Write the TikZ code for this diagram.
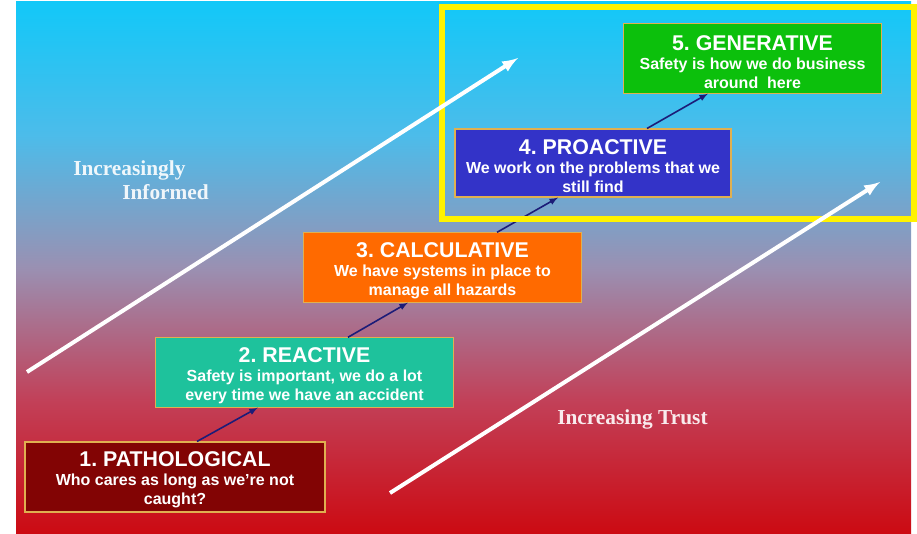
\documentclass[tikz,border=0pt]{standalone}
\usepackage{fontspec}
\setmainfont{Liberation Serif}
\setsansfont{Liberation Sans}
\usetikzlibrary{positioning}
\frenchspacing

\definecolor{bgtop}{HTML}{12C8F8}
\definecolor{bgupper}{HTML}{4CBCEA}
\definecolor{bgmid}{HTML}{9A90B2}
\definecolor{bglower}{HTML}{C24058}
\definecolor{bgbottom}{HTML}{CC0A12}
\definecolor{stageline}{HTML}{E0B050}
\definecolor{patho}{HTML}{820404}
\definecolor{react}{HTML}{1EC29C}
\definecolor{calcul}{HTML}{FF6A00}
\definecolor{proact}{HTML}{3333C8}
\definecolor{gener}{HTML}{0CC00C}
\definecolor{linkblue}{HTML}{1C1C78}

\pgfdeclareverticalshading{bgshade}{100bp}{color(0bp)=(bgbottom); color(25bp)=(bgbottom);
  color(37.5bp)=(bglower); color(50bp)=(bgmid); color(62.5bp)=(bgupper);
  color(75bp)=(bgtop); color(100bp)=(bgtop)}

\newcommand{\stagetitle}[1]{{\fontsize{16}{18}\selectfont\rule{0pt}{16pt}#1}}

\begin{document}
\begin{tikzpicture}[x=0.75pt,y=-0.75pt,
    stage/.style={draw=stageline, line width=0.8pt, align=center, text=white,
                  inner sep=0pt,
                  font=\sffamily\bfseries\fontsize{12}{14.25}\selectfont},
    stagelink/.style={draw=linkblue, line width=1.2pt, -latex},
    trend/.style={draw=white, line width=3pt, -latex},
    trendlabel/.style={text=white, text opacity=0.9, inner sep=0pt,
                       font=\rmfamily\bfseries\fontsize{16}{19}\selectfont}]

    \useasboundingbox (0,0) rectangle (917,534);
    \shade[shading=bgshade] (16,2) rectangle (911,534);

    % the five stages
    \node (s1) [stage, fill=patho, minimum width=225pt, minimum height=52.5pt] at (175,477)
      {\stagetitle{1. PATHOLOGICAL}\\ Who cares as long as we’re not\\ caught?};
    \node (s2) [stage, fill=react, minimum width=224pt, minimum height=52pt] at (304.5,372.5)
      {\stagetitle{2. REACTIVE}\\ Safety is important, we do a lot\\ every time we have an accident};
    \node (s3) [stage, fill=calcul, minimum width=208pt, minimum height=52pt] at (442.5,267.5)
      {\stagetitle{3. CALCULATIVE}\\ We have systems in place to\\ manage all hazards};
    \node (s4) [stage, fill=proact, minimum width=207pt, minimum height=51pt] at (593,163)
      {\stagetitle{4. PROACTIVE}\\ We work on the problems that we\\ still find};
    \node (s5) [stage, fill=gener, minimum width=193pt, minimum height=52pt] at (752.5,58.5)
      {\stagetitle{5. GENERATIVE}\\ Safety is how we do business\\ around~ here};

    \foreach \a/\b/\p/\q in {s1/s2/16.5pt/-35pt, s2/s3/32.6pt/-25.9pt,
                             s3/s4/40.9pt/-26.2pt, s4/s5/40.5pt/-33.4pt} {
      \draw[stagelink] ([xshift=\p]\a.north) -- ([xshift=\q]\b.south);
    }

    % highlight of the upper two stages
    \draw[yellow, line width=4.5pt] (441.5,7) rectangle (913.5,219.5);

    % the two trends
    \coordinate (inf start) at (27,372);
    \coordinate (inf end) at (518,58);
    \coordinate (trust start) at (390,493);
    \coordinate (trust end) at (880,182);
    \draw[trend] (inf start) -- (inf end);
    \draw[trend] (trust start) -- (trust end);

    \node (inf1) [trendlabel, anchor=base west] at (73,176) {Increasingly};
    \node (inf2) [trendlabel, anchor=base west] at (122,200) {Informed};
    \node (trust) [trendlabel, anchor=base west] at (557,424) {Increasing Trust};

  \end{tikzpicture}
\end{document}
